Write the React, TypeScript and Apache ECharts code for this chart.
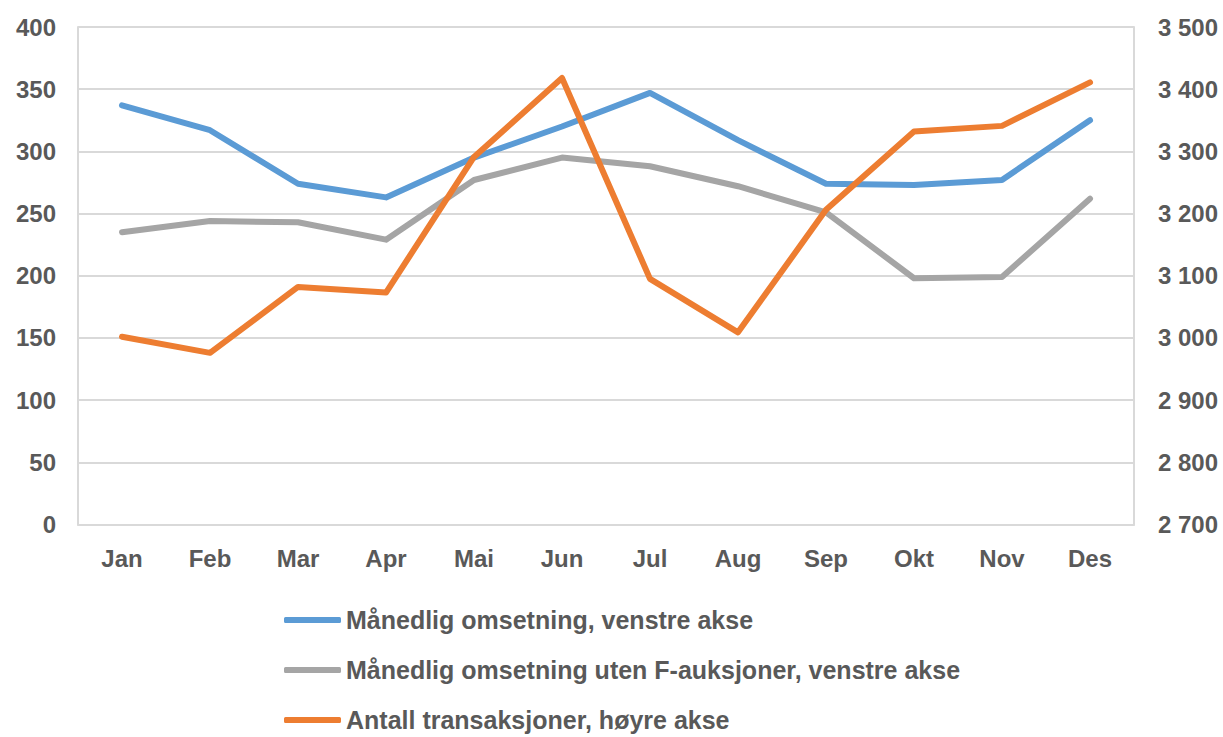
import React, { useEffect, useRef } from "react";
import * as echarts from "echarts";

const months = ["Jan", "Feb", "Mar", "Apr", "Mai", "Jun", "Jul", "Aug", "Sep", "Okt", "Nov", "Des"];
const omsetning = [337, 317, 274, 263, 295, 320, 347, 309, 274, 273, 277, 325];
const omsetningUtenF = [235, 244, 243, 229, 277, 295, 288, 272, 251, 198, 199, 262];
const transaksjoner = [3002, 2976, 3082, 3073, 3291, 3418, 3095, 3009, 3206, 3332, 3341, 3411];

const seriesNames = [
  "Månedlig omsetning, venstre akse",
  "Månedlig omsetning uten F-auksjoner, venstre akse",
  "Antall transaksjoner, høyre akse",
];

const FONT = "'Liberation Sans', Arial, sans-serif";
const LABEL_COLOR = "#595959";
const GRID_COLOR = "#d9d9d9";

export default function App() {
  const ref = useRef<HTMLDivElement>(null);
  useEffect(() => {
    if (!ref.current) return;
    const chart = echarts.init(ref.current, null, { renderer: "svg" });
    const labelStyle = {
      color: LABEL_COLOR,
      fontFamily: FONT,
      fontSize: 24,
      fontWeight: "bold" as const,
    };
    chart.setOption({
      animation: false,
      backgroundColor: "#ffffff",
      grid: { left: 78, right: 89, top: 27, bottom: 212.5, containLabel: false },
      legend: {
        orient: "vertical",
        left: 284,
        top: 605,
        height: 132,
        padding: 0,
        icon: "roundRect",
        itemWidth: 57,
        itemHeight: 6,
        itemGap: 20,
        textStyle: {
          color: LABEL_COLOR,
          fontFamily: FONT,
          fontSize: 25,
          fontWeight: "bold",
          lineHeight: 30,
        },
        data: seriesNames,
      },
      xAxis: {
        type: "category",
        data: months,
        boundaryGap: true,
        axisTick: { show: false },
        axisLine: { show: true, lineStyle: { color: GRID_COLOR, width: 2 } },
        axisLabel: { ...labelStyle, margin: 22 },
      },
      yAxis: [
        {
          type: "value",
          min: 0,
          max: 400,
          interval: 50,
          axisLine: { show: true, lineStyle: { color: GRID_COLOR, width: 2 } },
          axisTick: { show: false },
          splitLine: { show: true, lineStyle: { color: GRID_COLOR, width: 2 } },
          axisLabel: { ...labelStyle, margin: 22 },
        },
        {
          type: "value",
          min: 2700,
          max: 3500,
          interval: 100,
          position: "right",
          axisLine: { show: true, lineStyle: { color: GRID_COLOR, width: 2 } },
          axisTick: { show: false },
          splitLine: { show: false },
          axisLabel: {
            ...labelStyle,
            margin: 24,
            formatter: (v: number) => {
              const s = String(Math.round(v));
              return s.replace(/\B(?=(\d{3})+(?!\d))/g, " ");
            },
          },
        },
      ],
      series: [
        {
          name: seriesNames[0],
          type: "line",
          data: omsetning,
          yAxisIndex: 0,
          symbol: "none",
          color: "#5b9bd5",
          lineStyle: { width: 6, cap: "round", join: "round" },
        },
        {
          name: seriesNames[1],
          type: "line",
          data: omsetningUtenF,
          yAxisIndex: 0,
          symbol: "none",
          color: "#a5a5a5",
          lineStyle: { width: 6, cap: "round", join: "round" },
        },
        {
          name: seriesNames[2],
          type: "line",
          data: transaksjoner,
          yAxisIndex: 1,
          symbol: "none",
          color: "#ed7d31",
          lineStyle: { width: 6, cap: "round", join: "round" },
        },
      ],
    });
    return () => chart.dispose();
  }, []);
  return (
    <div
      ref={ref}
      style={{ position: "fixed", left: 0, top: 0, width: 1223, height: 737 }}
    />
  );
}
